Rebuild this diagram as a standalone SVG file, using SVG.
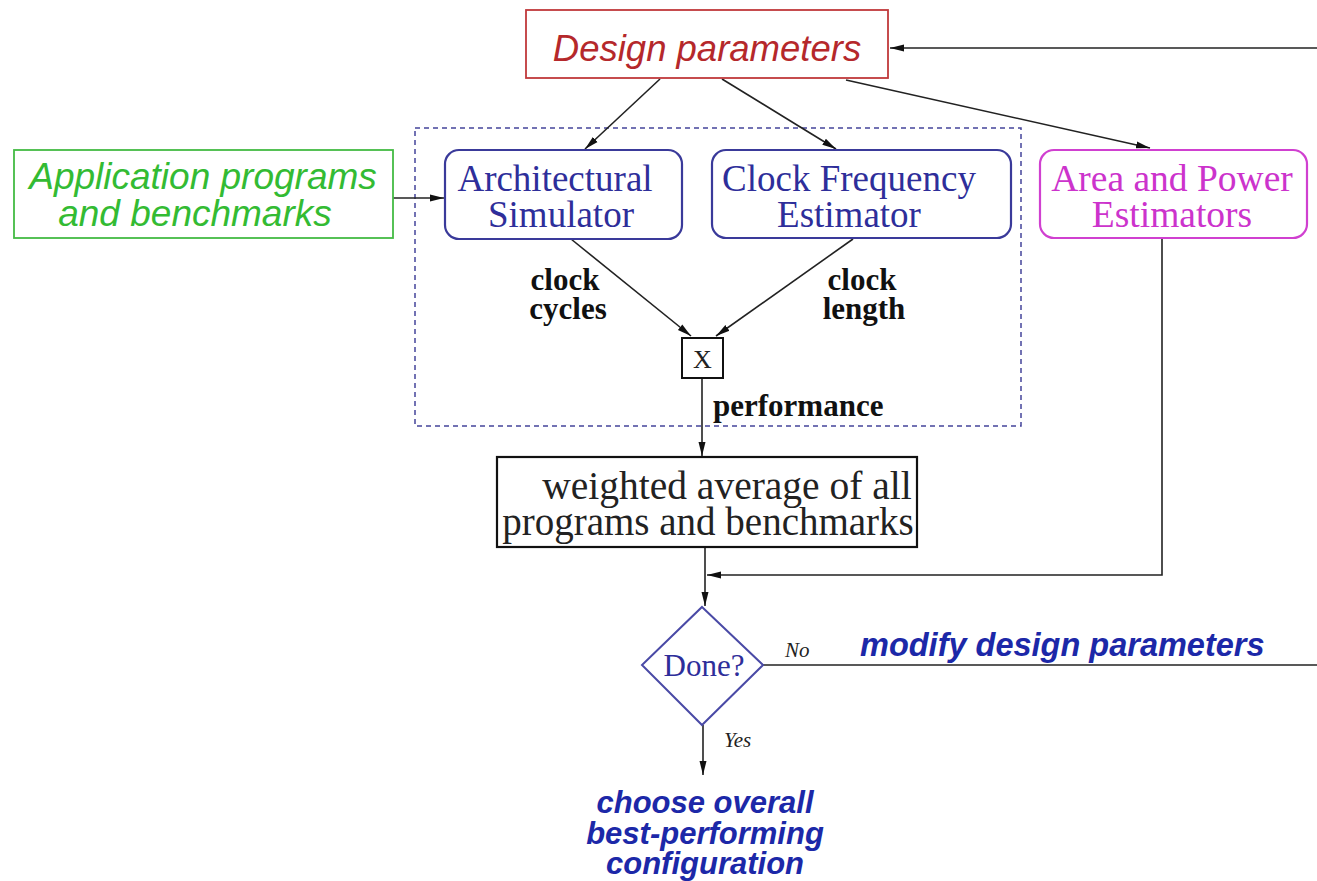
<svg xmlns="http://www.w3.org/2000/svg" width="1317" height="881" viewBox="0 0 1317 881">
<style>
.ln{fill:none;stroke:#222;stroke-width:1.6}
.serif{font-family:"Liberation Serif","Times New Roman",serif}
.sans{font-family:"Liberation Sans",Arial,sans-serif}
.blue{fill:#2e2e9a}
.bbox{fill:#fff;stroke:#3a3a9a;stroke-width:2.2}
.lbl{font-family:"Liberation Serif",serif;font-weight:bold;font-size:31px;fill:#111}
.bi{font-family:"Liberation Sans",Arial,sans-serif;font-weight:bold;font-style:italic;fill:#1c28a8}
.mid{text-anchor:middle}
</style>
<defs>
<marker id="ahl" viewBox="0 0 14 10" refX="14" refY="5" markerWidth="14" markerHeight="10" markerUnits="userSpaceOnUse" orient="auto">
<path d="M0,1.5 L14,5 L0,8.5 Z" fill="#111"/>
</marker>
</defs>
<rect width="1317" height="881" fill="#fff"/>

<g id="group-dashed">
<rect x="415" y="128" width="606" height="298" fill="none" stroke="#44449a" stroke-width="1.5" stroke-dasharray="5,4"/>
</g>

<g id="connectors">
<line class="ln" x1="1317" y1="48" x2="890" y2="48" marker-end="url(#ahl)"/>
<line class="ln" x1="660" y1="79" x2="585" y2="149" marker-end="url(#ahl)"/>
<line class="ln" x1="722" y1="79" x2="836" y2="149" marker-end="url(#ahl)"/>
<line class="ln" x1="846" y1="80" x2="1150" y2="148" marker-end="url(#ahl)"/>
<line class="ln" x1="393" y1="198" x2="444" y2="198" marker-end="url(#ahl)"/>
<line class="ln" x1="571" y1="239" x2="691" y2="336" marker-end="url(#ahl)"/>
<line class="ln" x1="853" y1="239" x2="716" y2="336" marker-end="url(#ahl)"/>
<line class="ln" x1="702" y1="378" x2="702" y2="456" marker-end="url(#ahl)"/>
<line class="ln" x1="705" y1="547" x2="705" y2="606" marker-end="url(#ahl)"/>
<polyline class="ln" points="1162,238 1162,575 707,575" marker-end="url(#ahl)"/>
<line class="ln" x1="763" y1="665" x2="1317" y2="665"/>
<line class="ln" x1="703" y1="725" x2="703" y2="775" marker-end="url(#ahl)"/>
</g>

<g id="node-design">
<rect x="526" y="10" width="362" height="68" fill="#fff" stroke="#c0393b" stroke-width="1.8"/>
<text x="707" y="61" class="sans mid" font-style="italic" font-size="36.5" fill="#b5282b">Design parameters</text>
</g>

<g id="node-app">
<rect x="14" y="150" width="379" height="88" fill="#fff" stroke="#44bb44" stroke-width="1.8"/>
<text x="203" y="189" class="sans mid" font-style="italic" font-size="37" fill="#33bb33">Application programs</text>
<text x="195" y="226" class="sans mid" font-style="italic" font-size="37" fill="#33bb33">and benchmarks</text>
</g>

<g id="node-arch">
<rect x="445" y="150" width="237" height="89" rx="14" class="bbox"/>
<text x="555" y="191" class="serif blue mid" font-size="37">Architectural</text>
<text x="561" y="227" class="serif blue mid" font-size="37">Simulator</text>
</g>

<g id="node-clock">
<rect x="712" y="150" width="299" height="88" rx="14" class="bbox"/>
<text x="849" y="191" class="serif blue mid" font-size="37">Clock Frequency</text>
<text x="849" y="227" class="serif blue mid" font-size="37">Estimator</text>
</g>

<g id="node-area">
<rect x="1040" y="150" width="267" height="88" rx="14" fill="#fff" stroke="#d040d0" stroke-width="2.2"/>
<text x="1172" y="191" class="serif mid" font-size="37.5" fill="#cc33cc">Area and Power</text>
<text x="1172" y="227" class="serif mid" font-size="37.5" fill="#cc33cc">Estimators</text>
</g>

<g id="labels-edges">
<text x="565" y="290" class="lbl mid">clock</text>
<text x="568" y="319" class="lbl mid">cycles</text>
<text x="862" y="290" class="lbl mid">clock</text>
<text x="864" y="319" class="lbl mid">length</text>
<text x="713" y="416" class="lbl">performance</text>
</g>

<g id="node-x">
<rect x="682" y="338" width="41" height="40" fill="#fff" stroke="#111" stroke-width="2"/>
<text x="702.5" y="368" class="serif mid" font-size="26" fill="#222">X</text>
</g>

<g id="node-weighted">
<rect x="497" y="457" width="420" height="90" fill="#fff" stroke="#111" stroke-width="2.2"/>
<text x="727" y="499" class="serif mid" font-size="39.5" fill="#222">weighted average of all</text>
<text x="708" y="535" class="serif mid" font-size="39" fill="#222">programs and benchmarks</text>
</g>

<g id="node-done">
<polygon points="702,607 763,665 702,725 642,665" fill="#fff" stroke="#4a4aa6" stroke-width="2"/>
<text x="704" y="676" class="serif blue mid" font-size="31">Done?</text>
</g>

<g id="labels-decision">
<text x="785" y="657" class="serif" font-style="italic" font-size="21" fill="#222">No</text>
<text x="860" y="656" class="bi" font-size="32.5">modify design parameters</text>
<text x="724" y="747" class="serif" font-style="italic" font-size="21" fill="#222">Yes</text>
</g>

<g id="node-choose">
<text x="705" y="813" class="bi mid" font-size="31">choose overall</text>
<text x="705" y="844" class="bi mid" font-size="31">best-performing</text>
<text x="705" y="874" class="bi mid" font-size="31">configuration</text>
</g>
</svg>
